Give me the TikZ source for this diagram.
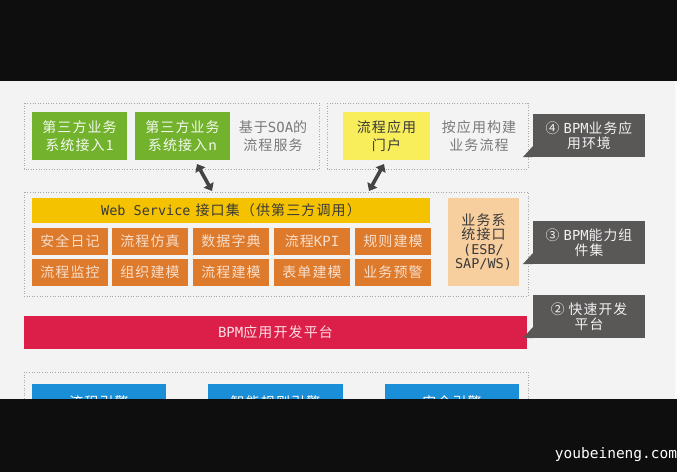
\documentclass[tikz,border=0pt]{standalone}
\usepackage{fontspec}
\setmainfont{Noto Sans CJK SC}[LetterSpace=8]
\newfontfamily\mono{DejaVu Sans Mono}
\usetikzlibrary{arrows.meta}
\definecolor{bgc}{HTML}{F3F3F3}
\definecolor{bandc}{HTML}{0E0E0E}
\definecolor{dotc}{HTML}{A8A8A8}
\definecolor{greenc}{HTML}{72B22C}
\definecolor{yelc}{HTML}{F8EE5C}
\definecolor{goldc}{HTML}{F5C200}
\definecolor{orc}{HTML}{DE7A2C}
\definecolor{peachc}{HTML}{F7CE9E}
\definecolor{callc}{HTML}{5A5757}
\definecolor{redc}{HTML}{DC1F48}
\definecolor{bluec}{HTML}{1A8ED6}
\definecolor{graytxt}{HTML}{7A7A7A}
\definecolor{darktxt}{HTML}{3A3A3A}
\definecolor{arrc}{HTML}{444444}
\begin{document}
\begin{tikzpicture}[x=1pt,y=-1pt,
  boxbase/.style={inner sep=0pt, align=center, font=\fontsize{14}{17.5}\selectfont},
  greenbox/.style={boxbase, fill=greenc, text=white!92!greenc, minimum width=95pt, minimum height=48pt},
  portalbox/.style={boxbase, fill=yelc, text=darktxt, minimum width=87pt, minimum height=48pt},
  desctext/.style={boxbase, text=graytxt},
  cellbox/.style={boxbase, fill=orc, text=white!75!orc, minimum width=76pt, minimum height=27pt},
  callbox/.style={inner sep=0pt, align=center, fill=callc, text=white!92!callc, minimum width=112pt, minimum height=43pt, font=\fontsize{13.8}{15}\selectfont},
  dotbox/.style={draw=dotc, line width=0.9pt, dash pattern=on 1pt off 1.6pt},
  bluebox/.style={boxbase, fill=bluec, text=white, minimum height=36pt},
  dblarrow/.style={draw=arrc, line width=3.6pt, {Triangle[width=11pt,length=7pt]}-{Triangle[width=11pt,length=7pt]}}
]
\useasboundingbox (0,0) rectangle (677,472);
% background
\fill[bgc] (0,0) rectangle (677,472);
\fill[white!60!bgc] (675,81) rectangle (677,399);

% dotted containers
\draw[dotbox] (24,103) rectangle (319,169);
\draw[dotbox] (327,103) rectangle (528,169);
\draw[dotbox] (24,192) rectangle (528,296);
\draw[dotbox] (24,372) rectangle (528,430);

% top layer
\node[greenbox] (g1) at (79.5,136) {第三方业务\\系统接入1};
\node[greenbox] (g2) at (182.5,136) {第三方业务\\系统接入n};
\node[desctext] (soa) at (273,136) {基于{\mono SOA}的\\流程服务};
\node[portalbox] (portal) at (386.5,136) {流程应用\\门户};
\node[desctext] (build) at (479,136) {按应用构建\\业务流程};

% middle layer
\node[boxbase, fill=goldc, text=darktxt, minimum width=398pt, minimum height=25pt, font=\fontsize{14}{16}\selectfont] (ws) at (231,210.5) {{\mono\fontsize{13.5}{16}\selectfont Web Service}\hspace{5pt}接口集（供第三方调用）};
\node[cellbox] (c11) at (70,241.5) {安全日记};
\node[cellbox] (c12) at (150,241.5) {流程仿真};
\node[cellbox] (c13) at (231,241.5) {数据字典};
\node[cellbox] (c14) at (312,241.5) {流程{\mono KPI}};
\node[cellbox] (c15) at (393,241.5) {规则建模};
\node[cellbox] (c21) at (70,272.5) {流程监控};
\node[cellbox] (c22) at (150,272.5) {组织建模};
\node[cellbox] (c23) at (231,272.5) {流程建模};
\node[cellbox] (c24) at (312,272.5) {表单建模};
\node[cellbox] (c25) at (393,272.5) {业务预警};
\node[boxbase, fill=peachc, text=darktxt, minimum width=71pt, minimum height=88pt, font=\fontsize{14}{14.5}\selectfont] (esb) at (483.5,242) {业务系\\统接口\\{\mono\fontsize{13.5}{14.5}\selectfont (ESB/}\\{\mono\fontsize{13.5}{14.5}\selectfont SAP/WS)}};

% platform
\node[boxbase, fill=redc, text=white!85!redc, minimum width=503pt, minimum height=33pt] (plat) at (275.5,332.5) {{\mono BPM}应用开发平台};

% engines (cut off by the band)
\node[bluebox, minimum width=134pt] (e1) at (99,402) {流程引擎};
\node[bluebox, minimum width=135pt] (e2) at (275.5,402) {智能规则引擎};
\node[bluebox, minimum width=134pt] (e3) at (452,402) {安全引擎};

% callouts
\node[callbox] (k4) at (589,135.5) {④ {\mono BPM}业务应\\用环境};
\fill[callc] (k4.south west) -- ++(-10,0) -- ++(10,-11) -- cycle;
\node[callbox] (k3) at (589,242.5) {③ {\mono BPM}能力组\\件集};
\fill[callc] (k3.south west) -- ++(-10,0) -- ++(10,-11) -- cycle;
\node[callbox] (k2) at (589,316.5) {② 快速开发\\平台};
\fill[callc] (k2.south west) -- ++(-10,0) -- ++(10,-11) -- cycle;

% arrows
\coordinate (a1t) at (197,164);
\coordinate (a1b) at (212,191);
\coordinate (a2t) at (384,164);
\coordinate (a2b) at (369,191);
\draw[dblarrow] (a1t) -- (a1b);
\draw[dblarrow] (a2t) -- (a2b);

% black bands
\fill[bandc] (0,0) rectangle (677,81);
\fill[bandc] (0,399) rectangle (677,472);
\node[inner sep=0pt, text=white, font=\mono\fontsize{14.5}{16}\selectfont] (wm) at (616,455) {youbeineng.com};
\end{tikzpicture}
\end{document}
